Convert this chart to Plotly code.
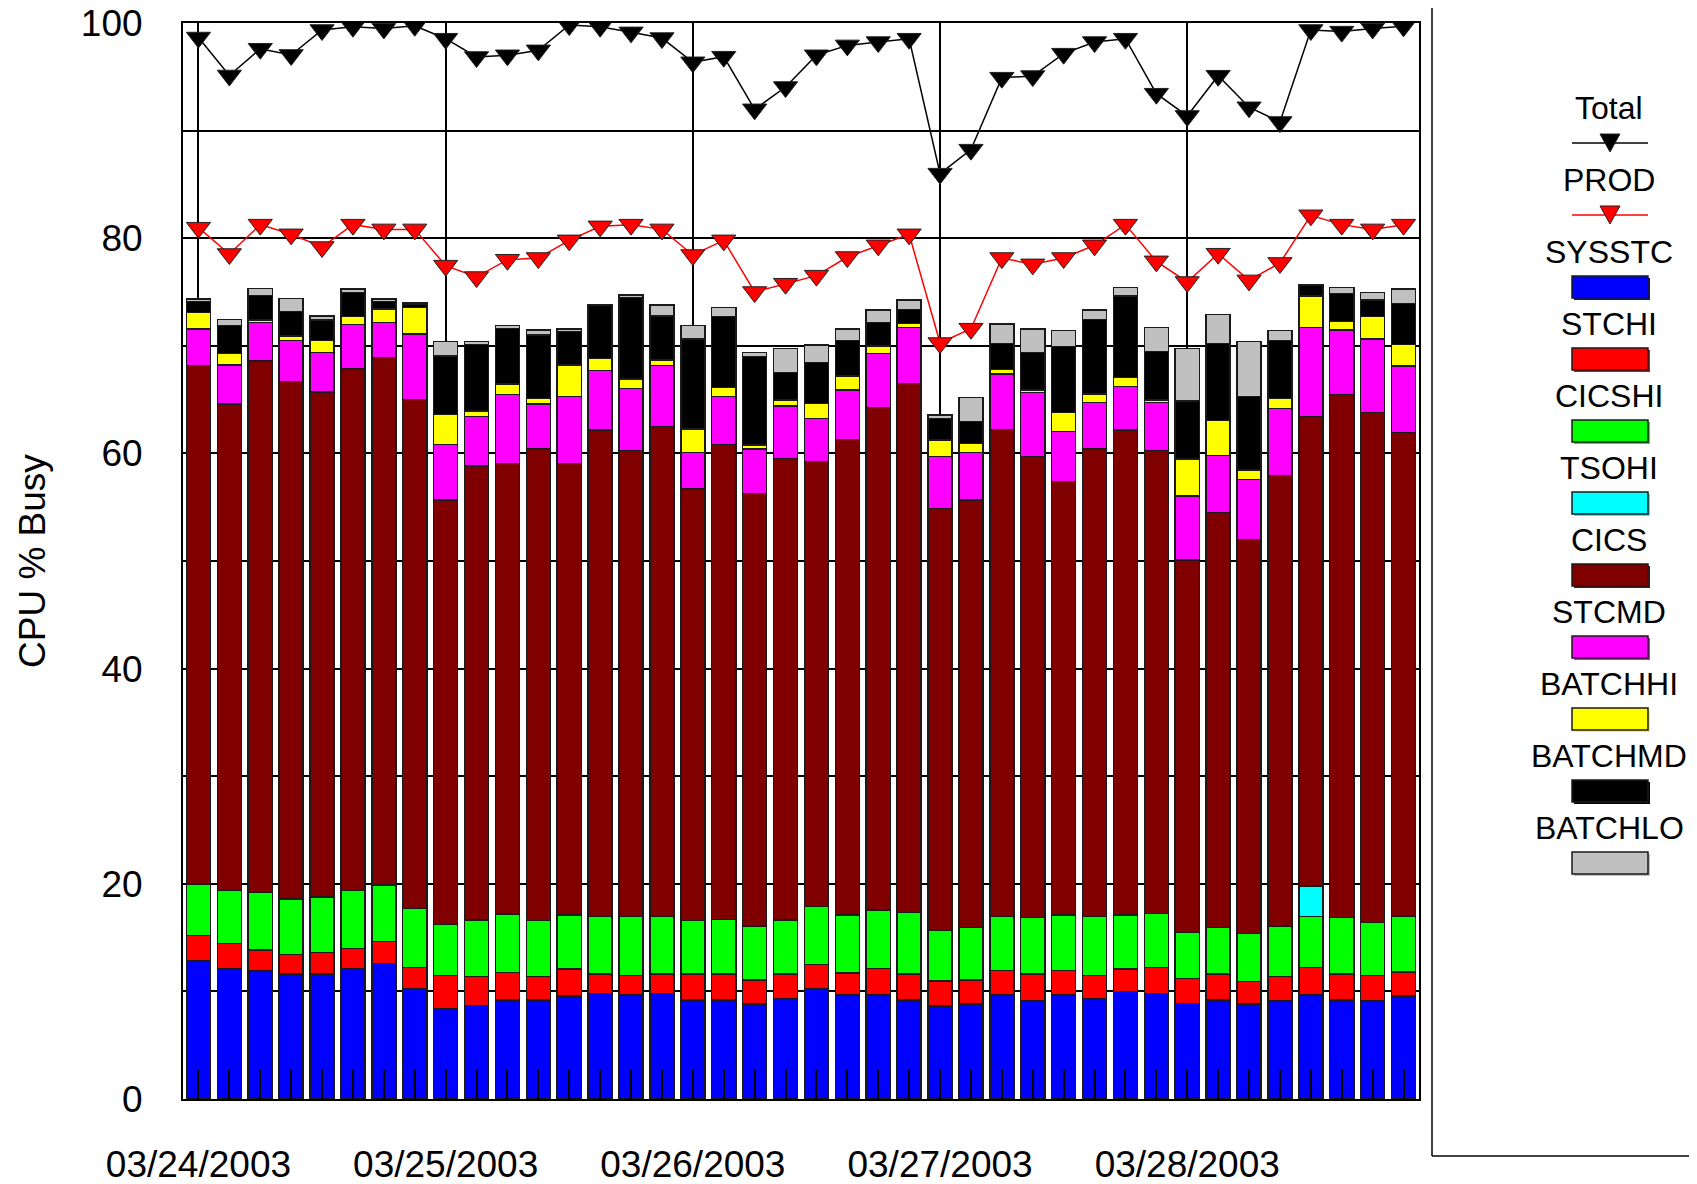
import plotly.graph_objects as go

# ---------------- data ----------------
dates = ["03/24/2003", "03/25/2003", "03/26/2003", "03/27/2003", "03/28/2003"]
intervals_per_day = 8
x = list(range(len(dates) * intervals_per_day))

sysstc = [12.85, 12.15, 11.9, 11.62, 11.62, 12.15, 12.61, 10.25,
          8.43, 8.67, 9.2, 9.2, 9.57, 9.82, 9.67, 9.82,
          9.2, 9.2, 8.83, 9.36, 10.28, 9.67, 9.67, 9.2,
          8.64, 8.83, 9.67, 9.1, 9.67, 9.36, 9.97, 9.82,
          8.89, 9.2, 8.83, 9.1, 9.67, 9.2, 9.1, 9.57]
stchi = [2.33, 2.28, 1.95, 1.83, 1.98, 1.85, 2.01, 1.95,
         3.03, 2.7, 2.57, 2.17, 2.51, 1.8, 1.79, 1.8,
         2.42, 2.42, 2.23, 2.26, 2.24, 2.04, 2.48, 2.42,
         2.33, 2.23, 2.29, 2.52, 2.29, 2.1, 2.11, 2.38,
         2.32, 2.42, 2.07, 2.27, 2.53, 2.42, 2.36, 2.23]
cicshi = [4.8, 4.93, 5.35, 5.14, 5.17, 5.39, 5.27, 5.49,
          4.77, 5.27, 5.42, 5.2, 5.02, 5.32, 5.48, 5.32,
          4.95, 5.08, 5.02, 5.02, 5.35, 5.39, 5.41, 5.7,
          4.67, 4.86, 4.98, 5.23, 5.14, 5.48, 5.02, 5.06,
          4.25, 4.3, 4.5, 4.71, 4.74, 5.23, 4.93, 5.2]
tsohi = [0, 0, 0, 0, 0, 0, 0, 0,
         0, 0, 0, 0, 0, 0, 0, 0,
         0, 0, 0, 0, 0, 0, 0, 0,
         0, 0, 0, 0, 0, 0, 0, 0,
         0, 0, 0, 0, 2.86, 0, 0, 0]
cics = [48.17, 45.24, 49.39, 48.07, 46.96, 48.45, 49.01, 47.34,
        39.44, 42.19, 41.89, 43.84, 41.98, 45.23, 43.31, 45.54,
        40.12, 44.14, 40.21, 42.9, 41.36, 44.21, 46.69, 49.19,
        39.26, 39.75, 45.3, 42.85, 40.27, 43.47, 45.07, 42.99,
        34.63, 38.57, 36.62, 41.85, 43.61, 48.64, 47.43, 44.92]
stcmd = [3.41, 3.6, 3.56, 3.81, 3.63, 4.16, 3.25, 6.07,
         5.17, 4.58, 6.41, 4.18, 6.19, 5.53, 5.8, 5.67,
         3.41, 4.43, 4.12, 4.87, 4.03, 4.58, 5.05, 5.17,
         4.8, 4.43, 5.14, 5.94, 4.65, 4.3, 4.03, 4.46,
         5.95, 5.31, 5.57, 6.26, 8.27, 5.98, 6.81, 6.2]
batchhi = [1.54, 1.1, 0.25, 0.43, 1.11, 0.71, 1.27, 2.48,
           2.79, 0.53, 0.96, 0.53, 2.95, 1.13, 0.86, 0.53,
           2.17, 0.87, 0.37, 0.55, 1.39, 1.3, 0.68, 0.41,
           1.55, 0.84, 0.43, 0.25, 1.76, 0.81, 0.84, 0.25,
           3.44, 3.24, 0.87, 0.93, 2.95, 0.77, 2.08, 2.02]
batchmd = [1.0, 2.57, 2.26, 2.27, 1.93, 2.23, 0.68, 0.28,
           5.42, 6.2, 5.17, 5.88, 3.09, 4.9, 7.56, 4.09,
           8.36, 6.57, 8.21, 2.54, 3.78, 3.28, 2.17, 1.3,
           2.01, 2.01, 2.42, 3.47, 6.14, 6.94, 7.59, 4.49,
           5.39, 7.19, 6.81, 5.35, 1.02, 2.64, 1.55, 3.81]
batchlo = [0.25, 0.59, 0.65, 1.24, 0.37, 0.34, 0.25, 0.14,
           1.33, 0.24, 0.25, 0.47, 0.25, 0.12, 0.25, 1.03,
           1.24, 0.87, 0.37, 2.27, 1.64, 1.09, 1.18, 0.87,
           0.31, 2.23, 1.8, 2.2, 1.49, 0.87, 0.81, 2.27,
           4.9, 2.7, 5.11, 0.94, 0.0, 0.56, 0.71, 1.33]

total = [98.65, 95.12, 97.61, 97.03, 99.35, 99.66, 99.5, 99.75,
         98.54, 96.84, 97.0, 97.46, 99.81, 99.66, 99.13, 98.6,
         96.35, 96.87, 91.98, 94.05, 97.0, 97.92, 98.23, 98.54,
         86.0, 88.23, 94.92, 95.07, 97.15, 98.23, 98.54, 93.43,
         91.36, 95.1, 92.17, 90.8, 99.35, 99.2, 99.5, 99.69]
prod = [80.98, 78.53, 81.26, 80.36, 79.18, 81.26, 80.82, 80.82,
        77.45, 76.39, 78.0, 78.16, 79.8, 81.1, 81.26, 80.82,
        78.44, 79.8, 75.0, 75.77, 76.52, 78.25, 79.34, 80.36,
        70.26, 71.59, 78.16, 77.57, 78.16, 79.34, 81.26, 77.85,
        75.93, 78.56, 76.08, 77.7, 82.13, 81.26, 80.82, 81.26]

bar_series = [
    ("SYSSTC", sysstc, "#0000FF"),
    ("STCHI", stchi, "#FF0000"),
    ("CICSHI", cicshi, "#00FF00"),
    ("TSOHI", tsohi, "#00FFFF"),
    ("CICS", cics, "#800000"),
    ("STCMD", stcmd, "#FF00FF"),
    ("BATCHHI", batchhi, "#FFFF00"),
    ("BATCHMD", batchmd, "#000000"),
    ("BATCHLO", batchlo, "#C0C0C0"),
]
line_series = [
    ("Total", total, "#000000", "#000000"),
    ("PROD", prod, "#FF0000", "#FF0000"),
]

# ---------------- figure ----------------
PAGE_W, PAGE_H = 1697, 1184
OFF = 8  # default page body margin
W, H = PAGE_W - OFF, PAGE_H - OFF
# plot area in page pixels
PL, PT, PR, PB = 183, 23, 1419, 1099
L, T = PL - OFF, PT - OFF
R, B = PAGE_W - PR, PAGE_H - PB
PW, PH = PR - PL, PB - PT
FONT = "Arial, 'Liberation Sans', sans-serif"


def pxx(v):
    return (v - PL) / PW


def pxy(v):
    return (PB - v) / PH


fig = go.Figure()
for name, vals, color in bar_series:
    fig.add_trace(go.Bar(
        x=x, y=vals, name=name, showlegend=False,
        marker=dict(color=color, line=dict(color="#1a1a1a", width=1.5)),
    ))
for name, vals, color, mcolor in line_series:
    fig.add_trace(go.Scatter(
        x=x, y=vals, name=name, mode="lines+markers", showlegend=False,
        line=dict(color=color, width=1.5),
        marker=dict(symbol="triangle-down", size=21, color=mcolor,
                    line=dict(color="#222222", width=1)),
    ))

day_ticks = [d * intervals_per_day for d in range(len(dates))]

fig.update_layout(
    width=W, height=H,
    margin=dict(l=L, r=R, t=T, b=B, autoexpand=False),
    paper_bgcolor="white", plot_bgcolor="white",
    barmode="stack", bargap=0.22,
    font=dict(family=FONT, color="black"),
    showlegend=False,
)
fig.update_xaxes(
    range=[-0.5, len(x) - 0.5],
    tickmode="array", tickvals=day_ticks, ticktext=dates,
    tickfont=dict(size=37, family=FONT, color="black"),
    ticks="inside", ticklen=29, tickwidth=2, tickcolor="black",
    ticklabelstandoff=32, ticklabeloverflow="allow",
    minor=dict(ticks="inside", ticklen=29, tickwidth=2, tickcolor="black",
               dtick=1, tick0=0, showgrid=False),
    showgrid=True, gridcolor="black", gridwidth=1.5,
    showline=True, linecolor="black", linewidth=2, mirror=True,
    zeroline=False, automargin=False,
)
yvals = list(range(0, 101, 10))
fig.update_yaxes(
    range=[0, 100],
    tickmode="array", tickvals=yvals,
    ticktext=[str(v) if v % 20 == 0 else "" for v in yvals],
    tickfont=dict(size=37, family=FONT, color="black"),
    ticks="", ticklabelstandoff=31, ticklabeloverflow="allow",
    showgrid=True, gridcolor="black", gridwidth=1.5,
    showline=True, linecolor="black", linewidth=2, mirror=True,
    zeroline=False, automargin=False,
)

annotations = [dict(
    text="CPU % Busy", textangle=-90, xref="paper", yref="paper",
    x=pxx(32), y=0.5, xanchor="center", yanchor="middle", showarrow=False,
    font=dict(size=37, family=FONT, color="black"),
)]
shapes = []

# legend frame
shapes.append(dict(type="line", xref="paper", yref="paper",
                   x0=pxx(1432), x1=pxx(1432), y0=pxy(0), y1=pxy(1156),
                   line=dict(color="black", width=1.5)))
shapes.append(dict(type="line", xref="paper", yref="paper",
                   x0=pxx(1432), x1=pxx(PAGE_W), y0=pxy(1156), y1=pxy(1156),
                   line=dict(color="black", width=1.5)))

legend_items = [(n, "line", c) for n, _, c, _ in line_series] + \
               [(n, "box", c) for n, _, c in bar_series]
text_x, sym_x0, sym_x1 = 1609, 1572, 1648
for k, (name, kind, color) in enumerate(legend_items):
    ty = 108 + 72 * k
    sy = ty + 35
    annotations.append(dict(
        text=name, xref="paper", yref="paper", x=pxx(text_x), y=pxy(ty),
        xanchor="center", yanchor="middle", showarrow=False,
        font=dict(size=32, family=FONT, color="black")))
    if kind == "line":
        shapes.append(dict(type="line", xref="paper", yref="paper",
                           x0=pxx(sym_x0), x1=pxx(sym_x1), y0=pxy(sy), y1=pxy(sy),
                           line=dict(color=color, width=1.5)))
        cx = (sym_x0 + sym_x1) / 2
        path = "M {:.5f} {:.5f} L {:.5f} {:.5f} L {:.5f} {:.5f} Z".format(
            pxx(cx - 10), pxy(sy - 9), pxx(cx + 10), pxy(sy - 9), pxx(cx), pxy(sy + 9))
        shapes.append(dict(type="path", xref="paper", yref="paper", path=path,
                           fillcolor=color, line=dict(color="#222222", width=1)))
    else:
        shapes.append(dict(type="rect", xref="paper", yref="paper",
                           x0=pxx(sym_x0 + 2), x1=pxx(sym_x1 + 2),
                           y0=pxy(sy - 9), y1=pxy(sy + 13),
                           fillcolor=color, line=dict(width=0)))
        shapes.append(dict(type="rect", xref="paper", yref="paper",
                           x0=pxx(sym_x0), x1=pxx(sym_x1),
                           y0=pxy(sy - 11), y1=pxy(sy + 11),
                           fillcolor=color, line=dict(color="#1a1a1a", width=1.5)))

fig.update_layout(annotations=annotations, shapes=shapes)
fig.write_html("out.html")
